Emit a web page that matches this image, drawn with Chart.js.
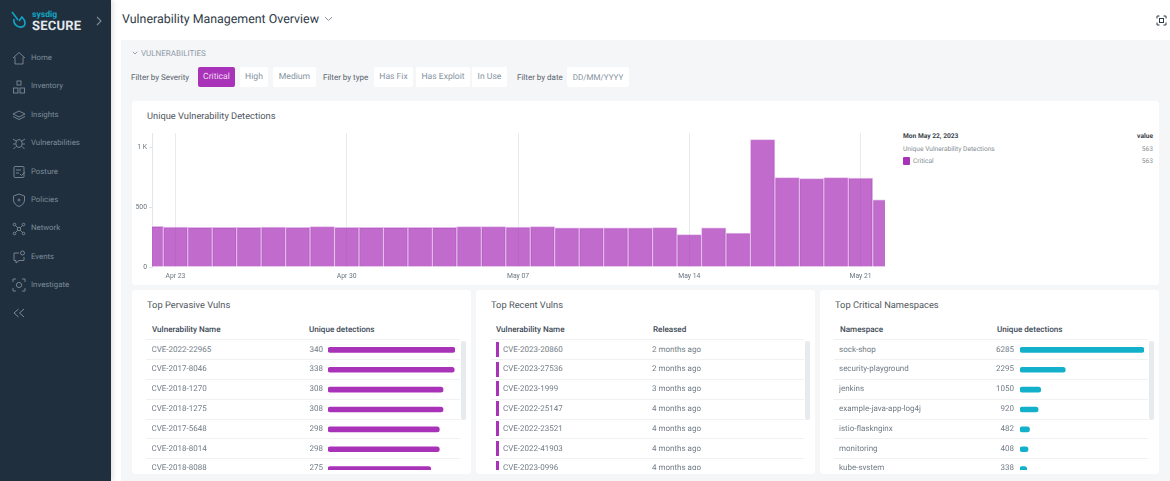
<!DOCTYPE html>
<html>
<head>
<meta charset="utf-8">
<title>Vulnerability Management Overview</title>
<script src="https://cdn.jsdelivr.net/npm/chart.js@4"></script>
<style>
    * { box-sizing: border-box; }
    html, body { margin: 0; width: 1170px; height: 481px; overflow: hidden; background: #fff; font-family: Roboto, sans-serif; text-rendering: geometricPrecision; }
    .abs, .abs > * { position: absolute; white-space: nowrap; }
    #sidebar { left: 0; top: 0; width: 111px; height: 481px; background: #1f2f3e; box-shadow: 2px 0 5px rgba(0,0,0,.12); }
    #panel { left: 121px; top: 40px; width: 1049px; height: 441px; background: #f5f6f8; }
    .nav { left: 31px; font-size: 7.8px; color: #7d8b98; line-height: 12px; }
    .nav-icon { left: 12px; width: 14px; height: 14px; }
    .filter-label { top: 71.5px; font-size: 8px; line-height: 12px; color: #5a646e; }
    .btn { top: 67px; height: 20px; line-height: 21px; text-align: center; font-size: 8.6px; color: #8593a0; background: #fff; border-radius: 2px; }
    .card { background: #fff; border-radius: 3px; }
    .card-title { font-size: 9.3px; line-height: 12px; color: #50565d; }
    .th { top: 323.5px; font-size: 8.1px; line-height: 11px; font-weight: 500; color: #3d4955; }
    .cell { font-size: 8px; line-height: 12px; color: #727c86; }
    .rule { height: 1px; background: #eff1f3; }
    .scroll { top: 341px; width: 5px; height: 79px; background: #e8ebee; border-radius: 2px; }
    .clip { top: 340px; height: 130px; overflow: hidden; }
    .leg { font-size: 6.65px; line-height: 10px; color: #868d94; }
</style>
</head>
<body>
<div class="abs" id="page" style="left:0;top:0;width:1170px;height:481px">
    <div id="panel"></div>
    <div id="sidebar" class="abs">
        <svg style="left:11px;top:11px" width="16" height="18" viewBox="0 0 16 18" fill="none" stroke="#12a5c4" stroke-width="1.6"><path d="M1 1 L7 9 M3 8 C2 14 8 18 13 15 C15 12 14 9 11 6 L8 10"/></svg>
        <div style="left:32px;top:10px;font-size:8.6px;line-height:10px;font-weight:700;color:#12a5c4">sysdig</div>
        <div style="left:32px;top:19px;font-size:13px;line-height:15px;font-weight:700;color:#e4e8eb;letter-spacing:.2px">SECURE</div>
        <svg style="left:96px;top:16px" width="6" height="10" viewBox="0 0 6 10" fill="none" stroke="#7d8b98" stroke-width="1.1"><path d="M1 1 L5 5 L1 9"/></svg>
        <svg style="left:13px;top:308px" width="12" height="10" viewBox="0 0 12 10" fill="none" stroke="#7d8b98" stroke-width="1"><path d="M5.5 1 L1 5 L5.5 9 M11 1 L6.5 5 L11 9"/></svg>
    </div>

    <div style="left:122px;top:10.5px;font-size:12.4px;line-height:18px;color:#2f3b47">Vulnerability Management Overview</div>
    <svg style="left:324px;top:16px" width="9" height="6" viewBox="0 0 9 6" fill="none" stroke="#8a97a3" stroke-width="1"><path d="M1 1 L4.5 4.5 L8 1"/></svg>
    <svg style="left:1156px;top:15px" width="11" height="11" viewBox="0 0 11 11" fill="none" stroke="#2f3b47" stroke-width="1"><path d="M1 3.5 V1 H3.5 M7.5 1 H10 V3.5 M10 7.5 V10 H7.5 M3.5 10 H1 V7.5"/><rect x="3.5" y="3.5" width="4" height="4"/></svg>

    <svg style="left:132px;top:51px" width="6" height="4" viewBox="0 0 6 4" fill="none" stroke="#8a97a3" stroke-width=".9"><path d="M.8 .8 L3 3 L5.2 .8"/></svg>
    <div style="left:141px;top:48.5px;font-size:8px;line-height:10px;color:#8e9ba6">VULNERABILITIES</div>

    <div class="filter-label" style="left:131px">Filter by Severity</div>
    <div class="btn" style="left:198px;width:37px;background:#a933b8;color:#f3dcf6">Critical</div>
    <div class="btn" style="left:240px;width:28px">High</div>
    <div class="btn" style="left:273px;width:43px">Medium</div>
    <div class="filter-label" style="left:323px">Filter by type</div>
    <div class="btn" style="left:374px;width:39px">Has Fix</div>
    <div class="btn" style="left:416px;width:54px">Has Exploit</div>
    <div class="btn" style="left:472px;width:35px">In Use</div>
    <div class="filter-label" style="left:517px">Filter by date</div>
    <div class="btn" style="left:567px;width:62px;font-size:8px">DD/MM/YYYY</div>

    <div class="card" style="left:132px;top:101px;width:1027px;height:184px"></div>
    <div class="card-title" style="left:147px;top:111px">Unique Vulnerability Detections</div>
    <canvas id="detectionsChart" width="760" height="157" style="left:132px;top:125px"></canvas>
    <div class="leg" style="left:903px;top:131px;font-weight:700;color:#3c444c">Mon May 22, 2023</div>
    <div class="leg" style="left:1053px;width:100px;top:131px;text-align:right;font-weight:700;color:#3c444c">value</div>
    <div class="leg" style="left:903px;top:144px">Unique Vulnerability Detections</div>
    <div class="leg" id="legTotal" style="left:1053px;width:100px;top:144px;text-align:right"></div>
    <div style="left:903px;top:157px;width:7px;height:8px;background:#a933b8;border-radius:1px"></div>
    <div class="leg" style="left:913px;top:156px">Critical</div>
    <div class="leg" id="legCritical" style="left:1053px;width:100px;top:156px;text-align:right"></div>

    <div class="card" style="left:132px;top:290px;width:339px;height:184px"></div>
    <div class="card" style="left:476px;top:290px;width:339px;height:184px"></div>
    <div class="card" style="left:820px;top:290px;width:339px;height:184px"></div>
    <div class="card-title" style="left:147px;top:300px">Top Pervasive Vulns</div>
    <div class="card-title" style="left:491px;top:300px">Top Recent Vulns</div>
    <div class="card-title" style="left:835px;top:300px">Top Critical Namespaces</div>
    <div class="th" style="left:152px">Vulnerability Name</div>
    <div class="th" style="left:309px">Unique detections</div>
    <div class="th" style="left:496px">Vulnerability Name</div>
    <div class="th" style="left:653px">Released</div>
    <div class="th" style="left:840px">Namespace</div>
    <div class="th" style="left:997px">Unique detections</div>
    <div class="scroll" style="left:461px"></div>
    <div class="scroll" style="left:805px"></div>
    <div class="scroll" style="left:1149px"></div>

    <div class="clip" style="left:328px;width:128px"><canvas id="pervasiveChart" width="127" height="139" style="position:absolute;left:0;top:0"></canvas></div>
    <div class="clip" style="left:1020px;width:125px"><canvas id="namespaceChart" width="124" height="139" style="position:absolute;left:0;top:0"></canvas></div>
</div>

<script>
// -------------------------
// Chart Data
// -------------------------
const navItems = ['Home', 'Inventory', 'Insights', 'Vulnerabilities', 'Posture', 'Policies', 'Network', 'Events', 'Investigate'];

// days counted from Apr 23, first and last bar are cut by the plot edge
const dayOffsets = [-1, 0, 1, 2, 3, 4, 5, 6, 7, 8, 9, 10, 11, 12, 13, 14, 15, 16, 17, 18, 19, 20, 21, 22, 23, 24, 25, 26, 27, 28, 29];
const criticalCounts = [340, 335, 332, 332, 332, 335, 333, 338, 333, 332, 332, 332, 332, 338, 338, 335, 338, 327, 328, 328, 328, 330, 271, 329, 285, 1066, 748, 740, 748, 745, 563];
const tickDays = [0, 7, 14, 21, 28];
const tickDayLabels = ['Apr 23', 'Apr 30', 'May 07', 'May 14', 'May 21'];
const tickCounts = [0, 500, 1000];
const tickCountLabels = ['0', '500', '1 K'];

const pervasiveNames = ['CVE-2022-22965', 'CVE-2017-8046', 'CVE-2018-1270', 'CVE-2018-1275', 'CVE-2017-5648', 'CVE-2018-8014', 'CVE-2018-8088'];
const pervasiveCounts = [340, 338, 308, 308, 298, 298, 275];

const recentNames = ['CVE-2023-20860', 'CVE-2023-27536', 'CVE-2023-1999', 'CVE-2022-25147', 'CVE-2022-23521', 'CVE-2022-41903', 'CVE-2023-0996'];
const recentReleased = ['2 months ago', '2 months ago', '3 months ago', '4 months ago', '4 months ago', '4 months ago', '4 months ago'];

const namespaceNames = ['sock-shop', 'security-playground', 'jenkins', 'example-java-app-log4j', 'istio-flasknginx', 'monitoring', 'kube-system'];
const namespaceCounts = [6285, 2295, 1050, 920, 482, 408, 338];

// -------------------------
// Page text
// -------------------------
const page = document.getElementById('page');
const sidebar = document.getElementById('sidebar');

function addDiv(parent, className, css, text) {
    const el = document.createElement('div');
    el.className = className;
    el.style.cssText = css;
    if (text !== undefined) el.textContent = text;
    parent.appendChild(el);
    return el;
}

const navIcons = [
    '<path d="M1 7 L7 1.5 L13 7 M3 6 V13 H11 V6"/>',
    '<rect x="5" y="1" width="4" height="4"/><rect x="1.5" y="8" width="4.5" height="5"/><rect x="8" y="8" width="4.5" height="5"/>',
    '<path d="M7 3 L13 6 L7 9 L1 6 Z M1 8.5 L7 11.5 L13 8.5"/>',
    '<ellipse cx="7" cy="7.5" rx="3.2" ry="4"/><path d="M1 3 L4 5 M13 3 L10 5 M1 8 H3.8 M13 8 H10.2 M1.5 13 L4 10.5 M12.5 13 L10 10.5"/>',
    '<rect x="2" y="1.5" width="10" height="11" rx="1"/><path d="M4 5 H9 M4 8 H7 M8 9 L9.5 10.5 L13 7"/>',
    '<path d="M7 1 L12.5 3 V7 C12.5 10 10 12.5 7 13.5 C4 12.5 1.5 10 1.5 7 V3 Z M5.5 7 H8.5 M7 5.5 V8.5"/>',
    '<circle cx="2.5" cy="2.5" r="1.3"/><circle cx="11.5" cy="2.5" r="1.3"/><circle cx="2.5" cy="11.5" r="1.3"/><circle cx="11.5" cy="11.5" r="1.3"/><circle cx="7" cy="7" r="1.7"/><path d="M3.5 3.5 L5.7 5.7 M10.5 3.5 L8.3 5.7 M3.5 10.5 L5.7 8.3 M10.5 10.5 L8.3 8.3"/>',
    '<path d="M7 3 H2 V10.5 H4 V13 L7 10.5 H12 V7"/><circle cx="10.5" cy="3" r="2"/>',
    '<path d="M1 4 V1 H4 M10 1 H13 V4 M13 10 V13 H10 M4 13 H1 V10"/><circle cx="7" cy="7" r="2.6"/>'
];
const navTops = [51.5, 80, 108.5, 136.5, 165.5, 193.5, 222, 250.5, 278.5];

navItems.forEach((label, i) => {
    addDiv(sidebar, 'nav', `top:${navTops[i]}px`, label);
    const wrap = addDiv(sidebar, 'nav-icon', `top:${navTops[i] - 1.5}px`);
    wrap.innerHTML = `<svg width="14" height="14" viewBox="0 0 14 14" fill="none" stroke="#7d8b98" stroke-width=".9">${navIcons[i]}</svg>`;
});

document.getElementById('legTotal').textContent = criticalCounts[criticalCounts.length - 1];
document.getElementById('legCritical').textContent = criticalCounts[criticalCounts.length - 1];

// -------------------------
// Table rows
// -------------------------
const rowHeight = 19.8;
const firstRule = 339.3;
const lastVisible = 470;

function rowTop(i) {
    return firstRule + rowHeight * i + 4.3;
}

function addRules(left, width) {
    for (let i = 0; i < 7; i++) {
        addDiv(page, 'rule', `left:${left}px;width:${width}px;top:${firstRule + rowHeight * i}px`);
    }
}

// the last row is cut by the bottom of the list
function addColumn(left, width, text, align) {
    for (let i = 0; i < 7; i++) {
        const top = rowTop(i);
        const height = Math.min(12, lastVisible - top);
        addDiv(page, 'cell', `left:${left}px;width:${width}px;top:${top}px;height:${height}px;overflow:hidden;text-align:${align}`, text[i]);
    }
}

addRules(146, 314);
addRules(491, 313);
addRules(834, 314);

addColumn(151.5, 130, pervasiveNames, 'left');
addColumn(283, 40, pervasiveCounts, 'right');
addColumn(503, 130, recentNames, 'left');
addColumn(652, 100, recentReleased, 'left');
addColumn(839, 140, namespaceNames, 'left');
addColumn(974, 40, namespaceCounts, 'right');

recentNames.forEach((name, i) => {
    const top = firstRule + rowHeight * i + 2.5;
    const height = Math.min(15, lastVisible - top);
    addDiv(page, '', `left:496px;top:${top}px;width:2.5px;height:${height}px;background:#a933b8`);
});

// -------------------------
// Chart Setup
// -------------------------
new Chart(document.getElementById('detectionsChart'), {
    type: 'bar',
    data: {
        datasets: [{
            data: dayOffsets.map((d, i) => ({ x: d, y: criticalCounts[i] })),
            backgroundColor: 'rgba(169, 51, 184, 0.72)',
            borderColor: 'rgba(222, 180, 230, 0.9)',
            borderWidth: 1,
            categoryPercentage: 1,
            barPercentage: 1
        }]
    },
    options: {
        responsive: false,
        animation: false,
        layout: { padding: { top: 8, right: 7, left: 0, bottom: 0 } },
        plugins: { legend: { display: false }, tooltip: { enabled: false } },
        scales: {
            x: {
                type: 'linear',
                offset: false,
                min: -0.96,
                max: 29,
                afterBuildTicks: scale => { scale.ticks = tickDays.map(v => ({ value: v })); },
                afterFit: scale => { scale.height = 15; },
                grid: { color: '#e9eaec', drawTicks: false, offset: false },
                border: { display: false },
                ticks: {
                    maxRotation: 0,
                    autoSkip: false,
                    padding: 5,
                    color: '#6b7680',
                    font: { family: 'Roboto', size: 6.8 },
                    callback: value => tickDayLabels[tickDays.indexOf(value)]
                }
            },
            y: {
                min: 0,
                max: 1122,
                afterBuildTicks: scale => { scale.ticks = tickCounts.map(v => ({ value: v })); },
                afterFit: scale => { scale.width = 20; },
                grid: { drawOnChartArea: false, tickLength: 3, color: '#dfe2e5' },
                border: { display: true, color: '#e4e6e9' },
                ticks: {
                    padding: 2,
                    color: '#6b7680',
                    font: { family: 'Roboto', size: 6.8 },
                    callback: value => tickCountLabels[tickCounts.indexOf(value)]
                }
            }
        }
    }
});

function rowBars(canvasId, labels, counts, color) {
    new Chart(document.getElementById(canvasId), {
        type: 'bar',
        data: {
            labels: labels,
            datasets: [{
                data: counts,
                backgroundColor: color,
                barThickness: 5,
                borderRadius: 2.5,
                borderSkipped: false
            }]
        },
        options: {
            indexAxis: 'y',
            responsive: false,
            animation: false,
            plugins: { legend: { display: false }, tooltip: { enabled: false } },
            scales: {
                x: { display: false, min: 0, max: counts[0] },
                y: { display: false }
            }
        }
    });
}

rowBars('pervasiveChart', pervasiveNames, pervasiveCounts, '#a933b8');
rowBars('namespaceChart', namespaceNames, namespaceCounts, '#12b0cb');
</script>
</body>
</html>
